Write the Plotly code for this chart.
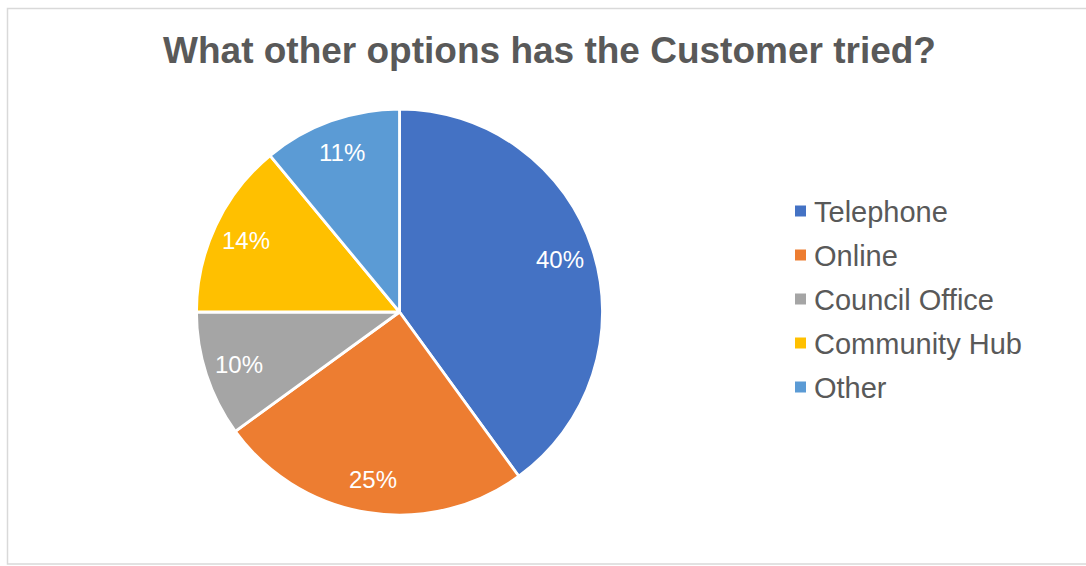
import math
import plotly.graph_objects as go

# Survey answers: other channels the customer tried
categories = ["Telephone", "Online", "Council Office", "Community Hub", "Other"]
shares = [40, 25, 10, 14, 11]
colors = ["#4472C4", "#ED7D31", "#A5A5A5", "#FFC000", "#5B9BD5"]
title_text = "What other options has the Customer tried?"

W, H = 1086, 566
FONT = "Liberation Sans, Arial, sans-serif"
TEXT_GREY = "#595959"

# pie placement in pixels
cx, cy, R = 399.5, 312.0, 203.0
label_frac = 0.833

# key placement in pixels
key_x, key_top, key_step, key_box = 795.0, 211.0, 44.0, 11.0
key_text_x = 812.0

fig = go.Figure(
    go.Pie(
        labels=categories,
        values=shares,
        marker=dict(colors=colors, line=dict(color="white", width=2.8)),
        sort=False,
        direction="clockwise",
        rotation=0,
        textinfo="none",
        hoverinfo="label+percent",
        showlegend=False,
        domain=dict(
            x=[(cx - R) / W, (cx + R) / W],
            y=[1 - (cy + R) / H, 1 - (cy - R) / H],
        ),
    )
)

# percentage labels placed at each slice's mid-angle
total = sum(shares)
start = 0.0
annotations = []
for v in shares:
    sweep = 360.0 * v / total
    mid = math.radians(start + sweep / 2)
    px = cx + label_frac * R * math.sin(mid)
    py = cy - label_frac * R * math.cos(mid)
    annotations.append(
        dict(
            x=px / W,
            y=1 - py / H,
            xref="paper",
            yref="paper",
            text=f"{round(100 * v / total)}%",
            showarrow=False,
            xanchor="center",
            yanchor="middle",
            font=dict(family=FONT, size=24, color="white"),
        )
    )
    start += sweep

# key: coloured squares with category names
shapes = [
    dict(
        type="rect",
        xref="paper",
        yref="paper",
        x0=7.5 / W,
        x1=1.02,
        y0=1 - 564 / H,
        y1=1 - 8.5 / H,
        line=dict(color="#D9D9D9", width=1.5),
        fillcolor="rgba(0,0,0,0)",
        layer="below",
    )
]
for i, (name, col) in enumerate(zip(categories, colors)):
    yc = key_top + i * key_step
    shapes.append(
        dict(
            type="rect",
            xref="paper",
            yref="paper",
            x0=key_x / W,
            x1=(key_x + key_box) / W,
            y0=1 - (yc + key_box / 2) / H,
            y1=1 - (yc - key_box / 2) / H,
            line=dict(width=0),
            fillcolor=col,
        )
    )
    annotations.append(
        dict(
            x=key_text_x / W,
            y=1 - (yc + 0.5) / H,
            xref="paper",
            yref="paper",
            text=name,
            showarrow=False,
            xanchor="left",
            yanchor="middle",
            font=dict(family=FONT, size=29, color=TEXT_GREY),
        )
    )

fig.update_layout(
    width=W,
    height=H,
    autosize=False,
    margin=dict(l=0, r=0, t=0, b=0),
    paper_bgcolor="white",
    plot_bgcolor="white",
    showlegend=False,
    title=dict(
        text=f"<b>{title_text}</b>",
        x=549.5 / W,
        xanchor="center",
        xref="paper",
        y=1 - 50 / H,
        yref="container",
        yanchor="middle",
        font=dict(family=FONT, size=37, color=TEXT_GREY),
    ),
    annotations=annotations,
    shapes=shapes,
)

fig.write_html("out.html")
